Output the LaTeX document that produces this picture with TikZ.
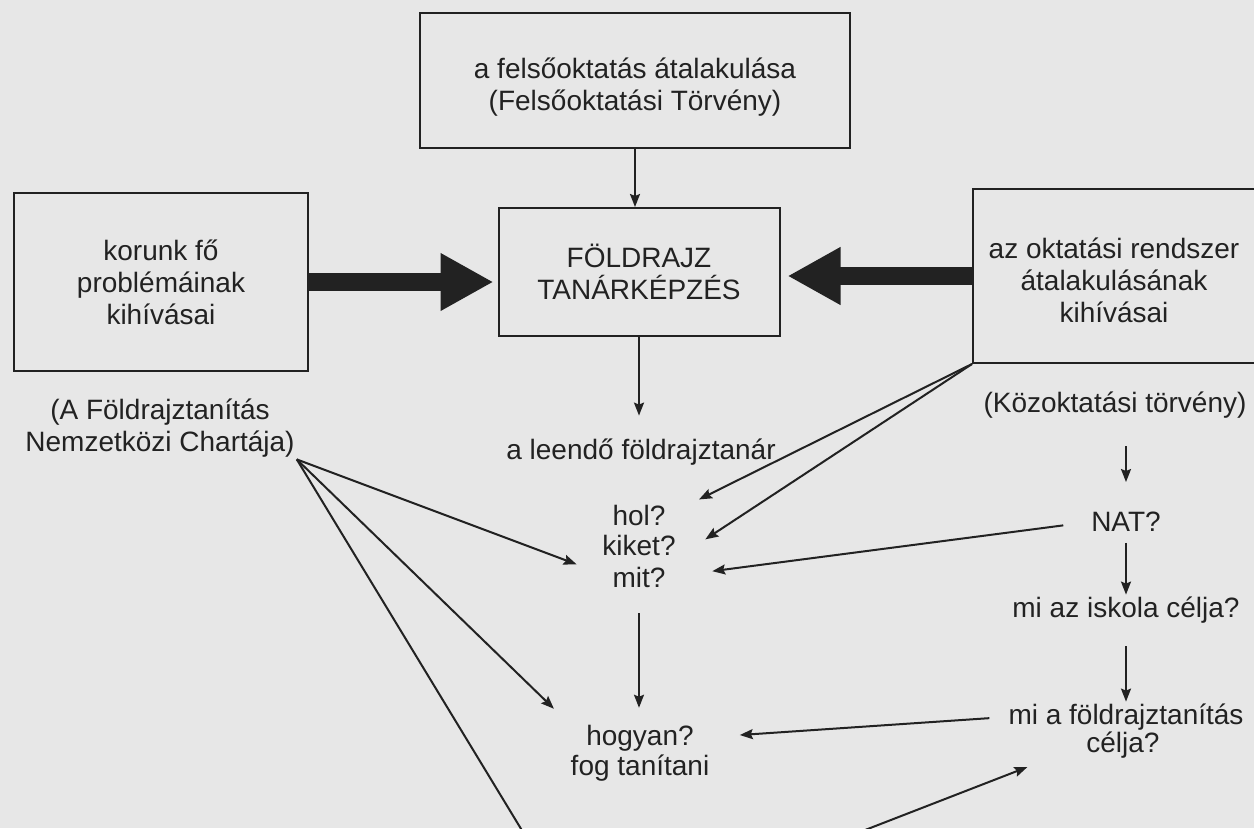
\documentclass[tikz,border=0pt]{standalone}
\usepackage{fontspec}
\setmainfont{Liberation Sans}
\usetikzlibrary{arrows.meta}
\definecolor{ink}{RGB}{34,34,34}
\definecolor{paper}{RGB}{231,231,231}

\begin{document}
\begin{tikzpicture}[x=1pt,y=-1pt,
    font=\fontsize{28}{32}\selectfont, text=ink,
    box/.style={draw=ink, line width=2pt, align=center},
    txt/.style={inner sep=2pt, align=center},
    thin/.style={draw=ink, line width=2pt, -{Stealth[length=13pt,width=10pt,inset=2pt]}},
    fat/.style={draw=ink, line width=18pt, -{Triangle[length=53pt,width=54pt]}}]
  \useasboundingbox (0,0) rectangle (1254,828);
  \fill[paper] (0,0) rectangle (1254,828);
  \clip (0,0) rectangle (1254,828);

  % boxes
  \node[box, minimum width=430, minimum height=135] (felso) at (635,80.5) {};
  \node[txt] (felsotxt) at (635,87) {a felsőoktatás átalakulása\\(Felsőoktatási Törvény)};
  \node[box, minimum width=294, minimum height=178] (korunk) at (161,282)
    {korunk fő\\problémáinak\\kihívásai};
  \node[box, minimum width=281, minimum height=128] (kepzes) at (639,272)
    {FÖLDRAJZ\\TANÁRKÉPZÉS};
  \node[box, minimum width=330, minimum height=174, anchor=north west] (rendszer) at (972,188) {};
  \node[txt] (rendszertxt) at (1114,280) {az oktatási rendszer\\átalakulásának\\kihívásai};

  % labels
  \node[txt] (charta) at (160,428) {(A Földrajztanítás\\Nemzetközi Chartája)};
  \node[txt] (leendo) at (641,452) {a leendő földrajztanár};
  \node[txt] (torveny) at (1115,405) {(Közoktatási törvény)};
  \node[txt] (nat) at (1126,522) {NAT?};
  \node[txt] (iskola) at (1126,610) {mi az iskola célja?};
  \node[txt] (fcel) at (1126,717) {mi a földrajztanítás};
  \node[txt] (celja) at (1123,745) {célja?};
  \node[txt] (hol) at (639,515) {hol?};
  \node[txt] (kiket) at (639,545) {kiket?};
  \node[txt] (mit) at (639,577) {mit?};
  \node[txt] (hogyan) at (640,738) {hogyan?};
  \node[txt] (tanit) at (640,768) {fog tanítani};

  \coordinate (alulbal) at (546,870);
  \coordinate (aluljobb) at (762,870);

  % thick arrows
  \draw[fat, shorten >=4pt] (korunk.east) -- (korunk.east -| kepzes.west);
  \draw[fat, shorten >=7pt] (rendszer.west) -- (rendszer.west -| kepzes.east);

  % thin arrows
  \draw[thin] (felso.south) -- (felso.south |- kepzes.north);
  \draw[thin, shorten >=21pt] (kepzes.south) -- (kepzes.south |- leendo.north);
  \draw[thin, shorten >=35pt] (rendszer.south west) -- (hol.east);
  \draw[thin, shorten >=33pt] (rendszer.south west) -- (kiket.south east);
  \draw[thin, shorten >=36pt] (charta.south east) -- (mit.west);
  \draw[thin, shorten >=42pt] (charta.south east) -- (hogyan.west);
  \draw[draw=ink, line width=2pt] (charta.south east) -- (alulbal);
  \draw[thin, shorten <=24pt, shorten >=15pt] (mit.south) -- (mit.south |- hogyan.north);
  \draw[thin, shorten <=26pt, shorten >=28pt] (nat.north |- torveny.south) -- (nat.north);
  \draw[thin, shorten <=9pt] (nat.south) -- (iskola.north);
  \draw[thin, shorten <=21pt] (iskola.south) -- (fcel.north);
  \draw[thin, shorten <=26pt, shorten >=45pt] (nat.west) -- (mit.east);
  \draw[thin, shorten <=17pt, shorten >=44pt] (fcel.west) -- (hogyan.east);
  \draw[thin, shorten >=61pt] (aluljobb) -- (celja.west);
\end{tikzpicture}
\end{document}
